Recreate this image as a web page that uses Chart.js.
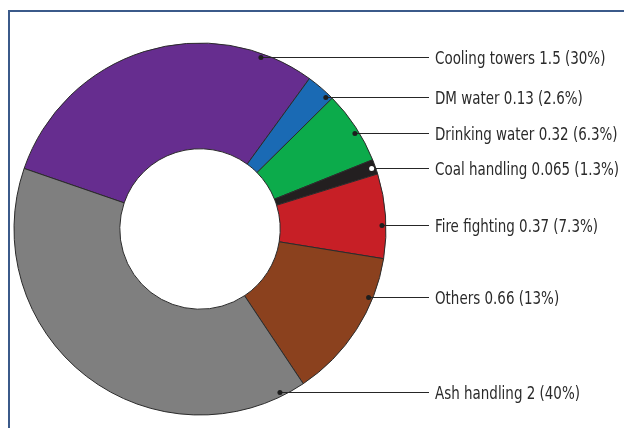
<!DOCTYPE html>
<html>
<head>
<meta charset="utf-8">
<script src="https://cdn.jsdelivr.net/npm/chart.js@4.4.0/dist/chart.umd.min.js"></script>
<style>
  html, body { margin: 0; padding: 0; background: #fff; }
  #wrap { position: relative; width: 624px; height: 428px; overflow: hidden; }
  #frame { position: absolute; left: 8px; top: 10px; width: 700px; height: 500px;
           border: 2px solid #3b5a8a; box-sizing: border-box; }
  canvas { position: absolute; left: 0; top: 0; }
</style>
</head>
<body>
<div id="wrap">
  <div id="frame"></div>
  <canvas id="pie-chart" width="624" height="428"></canvas>
</div>
<script>
// chart data
var categories = ["Cooling towers", "DM water", "Drinking water", "Coal handling", "Fire fighting", "Others", "Ash handling"];
var values = [1.5, 0.13, 0.32, 0.065, 0.37, 0.66, 2];
var percents = ["30%", "2.6%", "6.3%", "1.3%", "7.3%", "13%", "40%"];
var colours = ["#662d8f", "#1a6ab4", "#0cab4b", "#231f20", "#c71f26", "#8b411e", "#7f7f7f"];

// where each callout line sits (layout only)
var labelY = [57, 97, 133, 168, 225, 297, 392];
var lineEndX = 429;
var textX = 435;
var textSqueeze = 0.88; // the original uses a condensed face

var calloutPlugin = {
  id: 'callouts',
  afterDatasetsDraw: function (chart) {
    var ctx = chart.ctx;
    var arcs = chart.getDatasetMeta(0).data;
    ctx.save();
    ctx.font = '17px "DejaVu Sans Condensed", "Liberation Sans Narrow", sans-serif';
    ctx.textBaseline = 'middle';
    arcs.forEach(function (arc, i) {
      var p = arc.getProps(['x', 'y', 'outerRadius'], true);
      var r = p.outerRadius - 4;
      var dotY = Math.round(labelY[i]) + 0.5;
      var dy = dotY - p.y;
      var dx = Math.sqrt(Math.max(r * r - dy * dy, 0));
      var dotX = p.x + dx;

      ctx.strokeStyle = '#262626';
      ctx.lineWidth = 1;
      ctx.beginPath();
      ctx.moveTo(dotX, dotY);
      ctx.lineTo(lineEndX, dotY);
      ctx.stroke();

      ctx.fillStyle = (i == 3) ? '#ffffff' : '#1e1e1e';
      ctx.beginPath();
      ctx.arc(dotX, dotY, 2.5, 0, Math.PI * 2);
      ctx.fill();

      ctx.save();
      ctx.translate(textX, dotY + 2);
      ctx.scale(textSqueeze, 1);
      ctx.fillStyle = '#2a2a2a';
      ctx.fillText(categories[i] + ' ' + values[i] + ' (' + percents[i] + ')', 0, 0);
      ctx.restore();
    });
    ctx.restore();
  }
};

new Chart(document.getElementById('pie-chart'), {
  type: 'doughnut',
  data: {
    labels: categories,
    datasets: [{
      data: values,
      backgroundColor: colours,
      borderColor: '#2b2b2b',
      borderWidth: 1
    }]
  },
  options: {
    responsive: false,
    animation: false,
    devicePixelRatio: 1,
    rotation: -71,
    radius: 186,
    cutout: 80,
    layout: { padding: { left: 14, right: 238, top: 43, bottom: 13 } },
    plugins: {
      legend: { display: false },
      tooltip: { enabled: false },
      title: { display: false }
    }
  },
  plugins: [calloutPlugin]
});
</script>
</body>
</html>
